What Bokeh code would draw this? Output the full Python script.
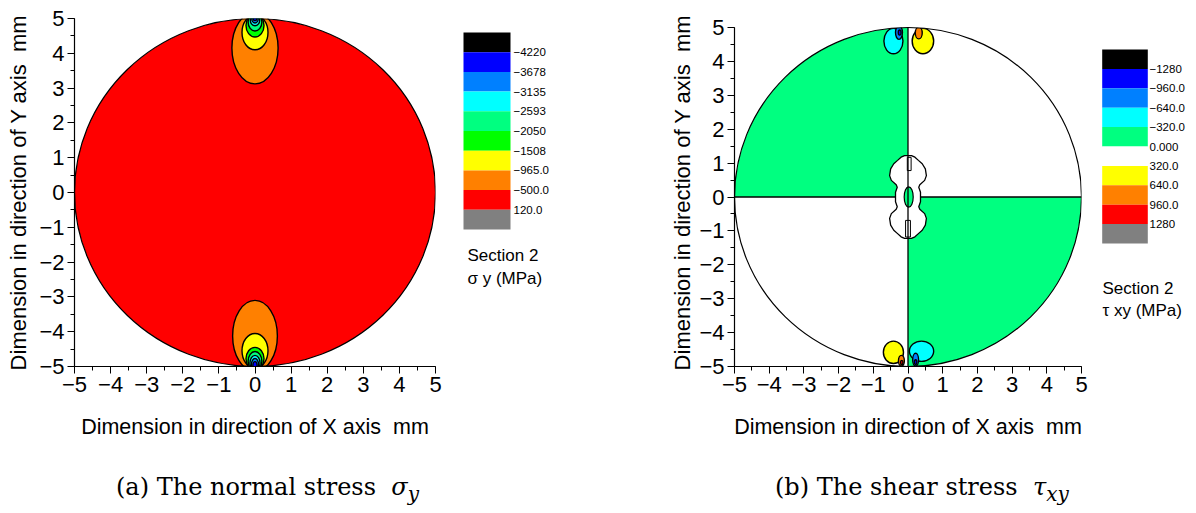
import numpy as np
from bokeh.plotting import figure
from bokeh.layouts import row, column
from bokeh.models import Range1d, SingleIntervalTicker, Div
from bokeh.core.properties import value
from bokeh.embed import file_html
from bokeh.resources import INLINE

# ---------------- data ----------------
radius = 5.0
ticks = [-5, -4, -3, -2, -1, 0, 1, 2, 3, 4, 5]
tick_labels = ["−5", "−4", "−3", "−2", "−1", "0", "1", "2", "3", "4", "5"]

legend_a_colors = ["#000000", "#0000ff", "#0080ff", "#00ffff", "#00ff80",
                   "#00ff00", "#ffff00", "#ff8000", "#ff0000", "#808080"]
legend_a_labels = ["−4220", "−3678", "−3135", "−2593", "−2050",
                   "−1508", "−965.0", "−500.0", "120.0"]
legend_b_colors = ["#000000", "#0000ff", "#0080ff", "#00ffff", "#00ff80",
                   "#ffffff", "#ffff00", "#ff8000", "#ff0000", "#808080"]
legend_b_labels = ["−1280", "−960.0", "−640.0", "−320.0", "0.000",
                   "320.0", "640.0", "960.0", "1280"]

caption_a = "(a) The normal stress&nbsp;&nbsp;<i>σ<sub>y</sub></i>"
caption_b = "(b) The shear stress&nbsp;&nbsp;<i>τ<sub>xy</sub></i>"

# sigma_y : background level and concentration lobes at the load points
sy_base_color = "#ff0000"
sy_lobe_x = [0, 0, 0, 0, 0, 0, 0, 0, 0, 0, 0, 0, 0, 0]
sy_lobe_y = [4.15, 4.60, 4.80, 4.90, 4.95, 5.00, 5.00,
             -4.12, -4.55, -4.78, -4.85, -4.90, -4.95, -5.00]
sy_lobe_w = [1.28, 0.72, 0.50, 0.38, 0.26, 0.18, 0.10,
             1.24, 0.72, 0.50, 0.38, 0.28, 0.20, 0.12]
sy_lobe_h = [2.06, 1.00, 0.66, 0.52, 0.32, 0.26, 0.12,
             2.04, 1.00, 0.66, 0.56, 0.44, 0.36, 0.28]
sy_lobe_c = ["#ff8000", "#ffff00", "#00ff00", "#00ff80", "#00ffff", "#0080ff", "#0000ff",
             "#ff8000", "#ffff00", "#00ff00", "#00ff80", "#00ffff", "#0080ff", "#0000ff"]

# tau_xy : negative quadrants (upper-left, lower-right) at 0..-320 level
txy_neg_color = "#00ff80"
txy_pos_quad_left = [0.0, -5.0]
txy_pos_quad_right = [5.0, 0.0]
txy_pos_quad_bottom = [0.0, -5.0]
txy_pos_quad_top = [5.0, 0.0]
# central zero-level "vase" (half width vs |y|)
vase_y = [0.00, 0.14, 0.29, 0.36, 0.49, 0.63, 0.83, 0.98, 1.08, 1.175, 1.22]
vase_hw = [0.36, 0.36, 0.31, 0.34, 0.48, 0.53, 0.50, 0.41, 0.30, 0.20, 0.10]
core_x, core_y, core_w, core_h = [0.02], [0.0], [0.26], [0.60]
slit_left = [-0.02, -0.07]
slit_right = [0.09, 0.07]
slit_bottom = [0.78, -1.18]
slit_top = [1.17, -0.69]
# lobes at the load points
txy_lobe_x = [-0.42, -0.26, -0.24, 0.43, 0.31, -0.42, -0.19, -0.18, 0.39, 0.22, 0.22]
txy_lobe_y = [4.60, 4.85, 4.85, 4.60, 4.84, -4.58, -4.83, -4.88, -4.55, -4.80, -4.87]
txy_lobe_w = [0.55, 0.20, 0.08, 0.62, 0.20, 0.58, 0.17, 0.07, 0.70, 0.17, 0.07]
txy_lobe_h = [0.75, 0.40, 0.15, 0.75, 0.35, 0.66, 0.32, 0.12, 0.60, 0.38, 0.14]
txy_lobe_c = ["#00ffff", "#0080ff", "#0000ff", "#ffff00", "#ff8000",
              "#ffff00", "#ff8000", "#ff0000", "#00ffff", "#0080ff", "#0000ff"]

# ---------------- helpers ----------------
SANS = "Liberation Sans"
SERIF = "DejaVu Serif"
FRAME_H = 348
TOP, BOTTOM = 18, 102


def base_fig(frame_w, left, right, y_end):
    p = figure(frame_width=frame_w, frame_height=FRAME_H,
               x_range=Range1d(-radius, radius), y_range=Range1d(-radius, y_end),
               output_backend="svg", toolbar_location=None,
               min_border_left=left, min_border_right=right,
               min_border_top=TOP, min_border_bottom=BOTTOM,
               background_fill_color="white", border_fill_color="white")
    p.outline_line_color = None
    p.grid.visible = False
    for ax in (p.xaxis[0], p.yaxis[0]):
        ax.ticker = SingleIntervalTicker(interval=1, num_minor_ticks=2)
        ax.bounds = (-radius, radius)
        ax.major_label_overrides = {t: l for t, l in zip(ticks, tick_labels)}
        ax.major_label_text_font = SANS
        ax.major_label_text_font_size = "22px"
        ax.major_label_text_color = "black"
        ax.axis_label_text_font = SANS
        ax.axis_label_text_font_style = "normal"
        ax.axis_label_text_color = "black"
        ax.axis_line_color = "black"
        ax.axis_line_width = 1.2
        ax.major_tick_line_color = "black"
        ax.minor_tick_line_color = "black"
        ax.major_tick_in = 0
        ax.major_tick_out = 7
        ax.minor_tick_in = 0
        ax.minor_tick_out = 4
        ax.major_label_standoff = 3
    p.xaxis.axis_label = "Dimension in direction of X axis\u00a0\u00a0mm"
    p.yaxis.axis_label = "Dimension in direction of Y axis\u00a0\u00a0mm"
    p.xaxis.axis_label_text_font_size = "21.5px"
    p.yaxis.axis_label_text_font_size = "22px"
    p.xaxis.axis_label_standoff = 20
    return p


def circle_mask(p):
    th = np.linspace(0, 2 * np.pi, 361)
    hx = list(radius * np.cos(th))
    hy = list(radius * np.sin(th))
    ox = [-2 * radius, 2 * radius, 2 * radius, -2 * radius]
    oy = [-2 * radius, -2 * radius, 2 * radius, 2 * radius]
    p.multi_polygons(xs=[[[ox, hx]]], ys=[[[oy, hy]]],
                     fill_color="white", line_color=None)
    p.ellipse(x=[0], y=[0], width=[2 * radius], height=[2 * radius],
              fill_color=None, line_color="black", line_width=1.2)


def legend_fig(width, x0, x1, top0, band_h, colors, labels, lab_x, title1, title2, tx, ty1, ty2):
    # pixel coordinates: x from the figure's left edge, y from the frame's top edge
    lg = figure(frame_width=width, frame_height=FRAME_H,
                x_range=Range1d(0, width), y_range=Range1d(FRAME_H, 0),
                x_axis_type=None, y_axis_type=None, output_backend="svg",
                toolbar_location=None, min_border_left=0, min_border_right=0,
                min_border_top=TOP, min_border_bottom=BOTTOM,
                background_fill_color="white", border_fill_color="white")
    lg.outline_line_color = None
    lg.grid.visible = False
    n = len(colors)
    tops = [top0 + i * band_h for i in range(n)]
    bots = [t + band_h for t in tops]
    lg.quad(left=x0, right=x1, top=tops, bottom=bots, fill_color=colors, line_color=None)
    ly = [top0 + (i + 1) * band_h for i in range(len(labels))]
    lg.text(x=[lab_x] * len(labels), y=ly, text=labels, text_font=value(SANS),
            text_font_size="11.5px", text_baseline="middle", text_color="black")
    lg.text(x=[tx, tx], y=[ty1, ty2], text=[title1, title2], text_font=value(SANS),
            text_font_size="17px", text_baseline="middle", text_color="black")
    return lg


def caption(width, text, pad_left):
    return Div(text=text, width=width, height=40, margin=(0, 0, 0, 0),
               styles={"font-family": SERIF, "font-size": "24px", "color": "black",
                       "box-sizing": "border-box",
                       "padding-left": f"{pad_left}px", "padding-top": "6px",
                       "white-space": "nowrap", "line-height": "26px"})


# ---------------- (a) sigma_y ----------------
pa = base_fig(361, 74, 20, radius)
pa.yaxis.axis_label_standoff = 5
pa.ellipse(x=[0], y=[0], width=[2 * radius], height=[2 * radius],
           fill_color=sy_base_color, line_color=None)
pa.ellipse(x=sy_lobe_x, y=sy_lobe_y, width=sy_lobe_w, height=sy_lobe_h,
           fill_color=sy_lobe_c, line_color="black", line_width=1.4)
circle_mask(pa)

lga = legend_fig(145, 8, 55, 14, 19.7, legend_a_colors, legend_a_labels, 58,
                 "Section 2", "σ y (MPa)", 12, 237, 260)

# ---------------- (b) tau_xy ----------------
# frame of (b) starts 9 px lower in the picture: its y axis ends above 5
pb = base_fig(347, 134, 14, radius + 9 * (2 * radius) / 339.0)
pb.yaxis.axis_label_standoff = 1
pb.ellipse(x=[0], y=[0], width=[2 * radius], height=[2 * radius],
           fill_color=txy_neg_color, line_color=None)
pb.quad(left=txy_pos_quad_left, right=txy_pos_quad_right,
        bottom=txy_pos_quad_bottom, top=txy_pos_quad_top,
        fill_color="white", line_color=None)
vy = [-v for v in vase_y[::-1]] + vase_y[1:]
vw = vase_hw[::-1] + vase_hw[1:]
vase_xs = vw + [-w for w in vw[::-1]]
vase_ys = vy + vy[::-1]
pb.patch(x=vase_xs, y=vase_ys, fill_color="white", line_color="black", line_width=1.3)
pb.ellipse(x=core_x, y=core_y, width=core_w, height=core_h,
           fill_color=txy_neg_color, line_color="black", line_width=1.2)
pb.quad(left=slit_left, right=slit_right, bottom=slit_bottom, top=slit_top,
        fill_color="white", line_color="black", line_width=1.0)
pb.segment(x0=[0], y0=[-radius], x1=[0], y1=[radius], line_color="black", line_width=1.3)
pb.segment(x0=[-radius, vase_hw[0]], y0=[0, 0], x1=[-vase_hw[0], radius], y1=[0, 0],
           line_color="black", line_width=1.3)
pb.ellipse(x=txy_lobe_x, y=txy_lobe_y, width=txy_lobe_w, height=txy_lobe_h,
           fill_color=txy_lobe_c, line_color="black", line_width=1.4)
circle_mask(pb)

lgb = legend_fig(93, 6.7, 52.3, 31, 19.4, legend_b_colors, legend_b_labels, 54,
                 "Section 2", "τ xy (MPa)", 7, 270, 292)

cap_a = caption(600, caption_a, 116)
cap_b = caption(588, caption_b, 175)

layout = column(row(pa, lga, pb, lgb, spacing=0), row(cap_a, cap_b, spacing=0), spacing=0)
open("out.html", "w").write(file_html(layout, INLINE))
